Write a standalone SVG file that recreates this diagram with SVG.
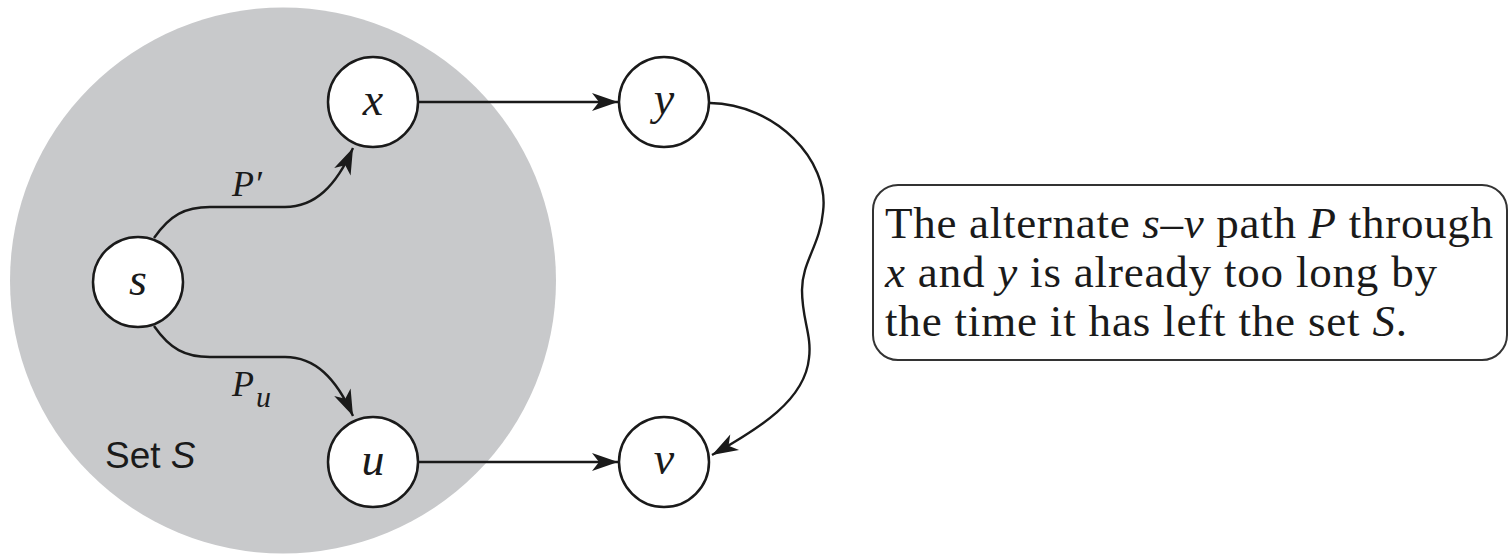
<svg xmlns="http://www.w3.org/2000/svg" width="1509" height="557" viewBox="0 0 1509 557">
<style>
.node{fill:#fff;stroke:#1a1a1a;stroke-width:2.5}
.lbl{font-family:"Liberation Serif",serif;font-style:italic;font-size:46px;fill:#1a1a1a;text-anchor:middle}
.edge{fill:none;stroke:#1a1a1a;stroke-width:2.4}
.txt{font-family:"Liberation Serif",serif;font-size:45px;fill:#1a1a1a}
.it{font-style:italic}
.plbl{font-family:"Liberation Serif",serif;font-style:italic;font-size:36px;fill:#1a1a1a}
</style>
<defs>
<marker id="ah" viewBox="-27 -10 29 20" refX="0" refY="0" markerWidth="29" markerHeight="20" markerUnits="userSpaceOnUse" orient="auto">
<path d="M0,0 L-26,-9 L-19,0 L-26,9 Z" fill="#1a1a1a"/>
</marker>
</defs>
<rect width="1509" height="557" fill="#fff"/>
<circle id="setS" cx="283" cy="280.5" r="273" fill="#c8c9cb"/>
<text x="105" y="468" font-family="'Liberation Sans',sans-serif" font-size="37" fill="#1a1a1a">Set <tspan font-style="italic">S</tspan></text>
<g id="connectors">
<path class="edge" d="M154,238 C170,215 185,207 210,207 L285,207 C315,207 336,186 353,148" marker-end="url(#ah)"/>
<path class="edge" d="M154,326 C170,349 185,357 210,357 L285,357 C315,357 336,378 353,416" marker-end="url(#ah)"/>
<path class="edge" d="M419,102 L618,102" marker-end="url(#ah)"/>
<path class="edge" d="M419,462 L618,462" marker-end="url(#ah)"/>
<path class="edge" d="M710,103 C775,104 830,160 823,212 C820,245 802,262 802,290 C802,320 812,335 809,358 C805,400 760,428 712,455" marker-end="url(#ah)"/>
<text class="plbl" x="232" y="196">P′</text>
<text class="plbl" x="232" y="396">P<tspan x="256" y="407" font-size="30">u</tspan></text>
</g>
<g id="node-s"><circle class="node" cx="138" cy="282" r="45"/><text class="lbl" x="138" y="295">s</text></g>
<g id="node-x"><circle class="node" cx="373" cy="102" r="45"/><text class="lbl" x="373" y="115">x</text></g>
<g id="node-u"><circle class="node" cx="373" cy="462" r="45"/><text class="lbl" x="373" y="475">u</text></g>
<g id="node-y"><circle class="node" cx="664" cy="102" r="45"/><text class="lbl" x="664" y="114">y</text></g>
<g id="node-v"><circle class="node" cx="664" cy="462" r="45"/><text class="lbl" x="664" y="474">v</text></g>
<g id="note">
<rect x="873" y="185" width="634" height="175" rx="25" ry="25" fill="#fff" stroke="#333" stroke-width="2"/>
<text class="txt" x="885" y="238" textLength="608" lengthAdjust="spacing">The alternate <tspan class="it">s</tspan>–<tspan class="it">v</tspan> path <tspan class="it">P</tspan> through</text>
<text class="txt" x="885" y="287" textLength="552" lengthAdjust="spacing"><tspan class="it">x</tspan> and <tspan class="it">y</tspan> is already too long by</text>
<text class="txt" x="885" y="336" textLength="522" lengthAdjust="spacing">the time it has left the set <tspan class="it">S</tspan>.</text>
</g>
</svg>
